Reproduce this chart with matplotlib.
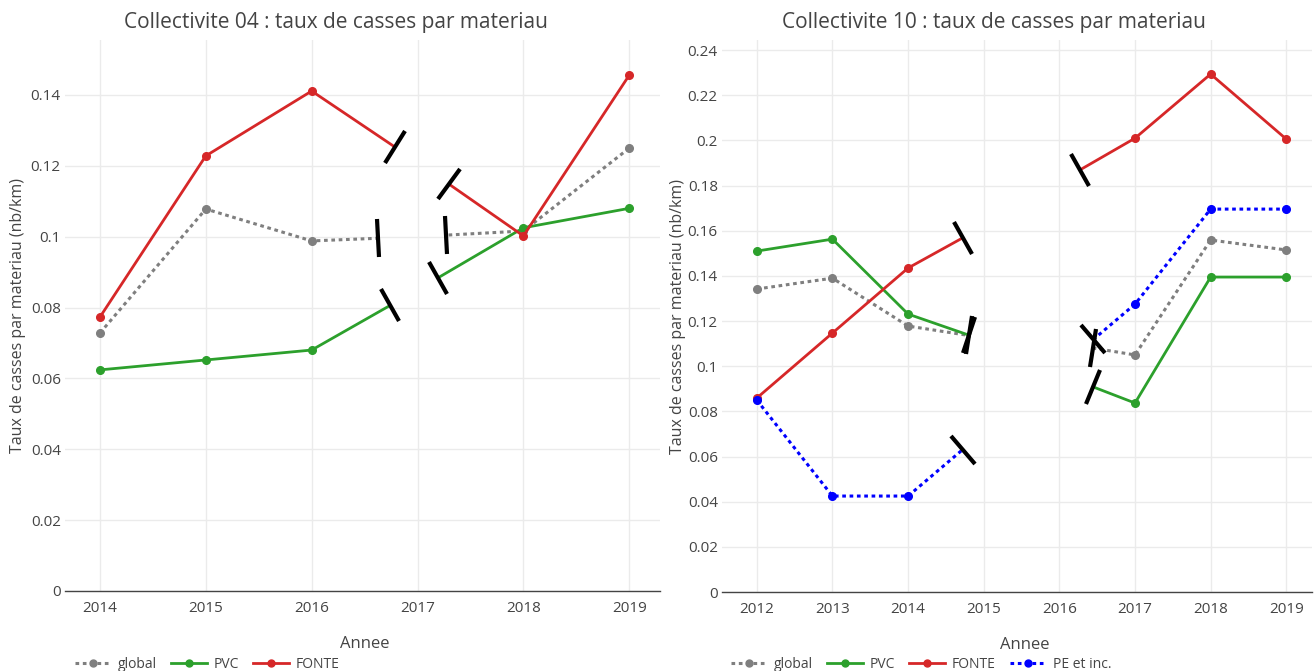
import numpy as np
import matplotlib
matplotlib.use("Agg")
import matplotlib.pyplot as plt
from matplotlib.markers import MarkerStyle
from matplotlib.patches import Rectangle
from matplotlib.transforms import Affine2D
from matplotlib.lines import Line2D

plt.rcParams["font.family"] = ["Open Sans", "DejaVu Sans"]

# Collectivite 04
years_04 = [2014, 2015, 2016, 2017, 2018, 2019]
global_04 = [0.0728, 0.1078, 0.0988, 0.1000, 0.1016, 0.1250]
pvc_04 = [0.0624, 0.0652, 0.0680, 0.0850, 0.1025, 0.1080]
fonte_04 = [0.0773, 0.1228, 0.1411, 0.1210, 0.1002, 0.1456]

# Collectivite 10
years_10 = [2012, 2013, 2014, 2015, 2016, 2017, 2018, 2019]
global_10 = [0.1342, 0.1390, 0.1178, 0.1126, 0.1105, 0.1050, 0.1559, 0.1515]
pvc_10 = [0.1510, 0.1563, 0.1231, 0.1115, 0.0966, 0.0837, 0.1395, 0.1395]
fonte_10 = [0.0859, 0.1147, 0.1435, 0.1620, 0.1817, 0.2010, 0.2294, 0.2006]
pe_10 = [0.0850, 0.0425, 0.0425, 0.0710, 0.0991, 0.1275, 0.1696, 0.1696]

GRAY = "#7f7f7f"
GREEN = "#2ca02c"
RED = "#d62728"
BLUE = "#0000ff"
TXT = "#444444"

styles = {
    "global": dict(color=GRAY, ls=(0, (1.2, 1.2)), lw=2.2),
    "PVC": dict(color=GREEN, ls="-", lw=2),
    "FONTE": dict(color=RED, ls="-", lw=2),
    "PE et inc.": dict(color=BLUE, ls=(0, (1.2, 1.2)), lw=2.2),
}

fig = plt.figure(figsize=(13.15, 6.71), dpi=100)
ax1 = fig.add_axes([65 / 1315, 80 / 671, 595 / 1315, 551 / 671])
ax2 = fig.add_axes([722 / 1315, 79 / 671, 590 / 1315, 552 / 671])


def setup(ax, title, xlim, ylim, yticks, xticks, title_x, ylab_x, xlab_x):
    ax.set_xlim(*xlim)
    ax.set_ylim(*ylim)
    ax.set_xticks(xticks)
    ax.set_xticklabels([str(x) for x in xticks])
    ax.set_yticks(yticks)
    ax.set_yticklabels(["0" if v == 0 else f"{v:g}" for v in yticks])
    ax.grid(True, color="#ebebeb", lw=1)
    ax.set_axisbelow(True)
    for s in ["top", "right", "left"]:
        ax.spines[s].set_visible(False)
    ax.spines["bottom"].set_color("#444444")
    ax.spines["bottom"].set_linewidth(1)
    ax.tick_params(axis="both", length=0, labelsize=11, colors=TXT)
    ax.tick_params(axis="y", pad=3)
    ax.tick_params(axis="x", pad=7)
    ax.set_title(title, fontsize=15, color=TXT, x=title_x, pad=0, y=1.0 + 7 / 551, va="bottom")
    ax.set_xlabel("Annee", fontsize=12, color=TXT)
    ax.xaxis.set_label_coords(xlab_x, -45 / 551)
    ax.set_ylabel("Taux de casses par materiau (nb/km)", fontsize=11.5, color=TXT)
    ax.yaxis.set_label_coords(ylab_x, 0.5)


setup(ax1, "Collectivite 04 : taux de casses par materiau",
      (2013.67, 2019.29), (0, 0.1555), np.arange(0, 0.141, 0.02), years_04,
      (336 - 65) / 595, (26 - 65) / 595, (365 - 65) / 595)
setup(ax2, "Collectivite 10 : taux de casses par materiau",
      (2011.54, 2019.34), (0, 0.2445), np.arange(0, 0.241, 0.02), years_10,
      (994 - 722) / 590, (686 - 722) / 590, (1025 - 722) / 590)


def broken_line(ax, x, y, name, gap):
    st = styles[name]
    g0, g1 = gap
    x0, x1 = ax.get_xlim()
    for a, b in [(x0 - 1, g0), (g1, x1 + 1)]:
        ln, = ax.plot(x, y, marker="o", ms=5.5, color=st["color"], ls=st["ls"],
                      lw=st["lw"], clip_on=True, zorder=3)
        rect = Rectangle((a, -1), b - a, 3, transform=ax.transData)
        ln.set_clip_path(rect)
    # break marks at the gap edges
    for gx in gap:
        gy = np.interp(gx, x, y)
        i = np.searchsorted(x, gx) - 1
        p0 = ax.transData.transform((x[i], y[i]))
        p1 = ax.transData.transform((x[i + 1], y[i + 1]))
        ang = np.degrees(np.arctan2(p1[1] - p0[1], p1[0] - p0[0]))
        m = MarkerStyle("|", transform=Affine2D().rotate_deg(ang))
        ax.plot([gx], [gy], marker=m, ms=27, mew=3, color="black",
                ls="none", zorder=4, clip_on=False)


broken_line(ax1, years_04, global_04, "global", (2016.63, 2017.27))
broken_line(ax1, years_04, pvc_04, "PVC", (2016.74, 2017.19))
broken_line(ax1, years_04, fonte_04, "FONTE", (2016.79, 2017.30))

broken_line(ax2, years_10, global_10, "global", (2014.80, 2016.45))
broken_line(ax2, years_10, pvc_10, "PVC", (2014.80, 2016.45))
broken_line(ax2, years_10, fonte_10, "FONTE", (2014.72, 2016.27))
broken_line(ax2, years_10, pe_10, "PE et inc.", (2014.72, 2016.45))


def handles(names):
    return [Line2D([], [], marker="o", ms=5, color=styles[n]["color"],
                   ls=styles[n]["ls"], lw=styles[n]["lw"]) for n in names]


names_04 = ["global", "PVC", "FONTE"]
names_10 = ["global", "PVC", "FONTE", "PE et inc."]
leg_kw = dict(ncol=4, frameon=False, fontsize=10, handlelength=2.6,
              handletextpad=0.5, columnspacing=1.0, labelcolor=TXT, loc="lower left")
fig.legend(handles(names_04), names_04, bbox_to_anchor=(62 / 1315, -0.02), **leg_kw)
fig.legend(handles(names_10), names_10, bbox_to_anchor=(718 / 1315, -0.02), **leg_kw)

fig.savefig("out.png", dpi=100)
